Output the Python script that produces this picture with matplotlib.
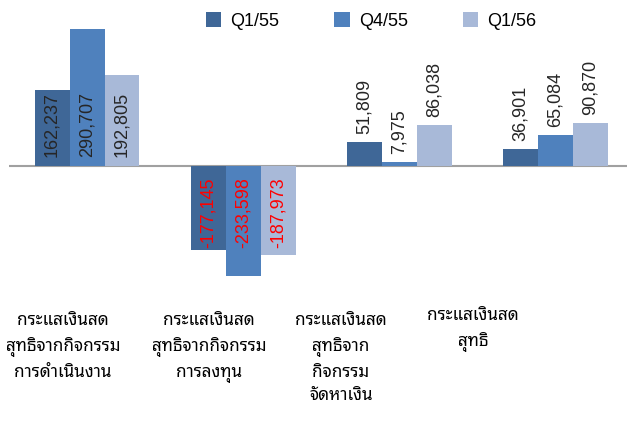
import matplotlib
matplotlib.use("Agg")
import matplotlib.pyplot as plt
from matplotlib import font_manager
from matplotlib.ft2font import FT2Font
from matplotlib.patches import Patch

# ---------------- data ----------------
categories = [
    "กระแสเงินสด\nสุทธิจากกิจกรรม\nการดำเนินงาน",
    "กระแสเงินสด\nสุทธิจากกิจกรรม\nการลงทุน",
    "กระแสเงินสด\nสุทธิจาก\nกิจกรรม\nจัดหาเงิน",
    "กระแสเงินสด\nสุทธิ",
]
series_names = ["Q1/55", "Q4/55", "Q1/56"]
q1_55 = [162237, -177145, 51809, 36901]
q4_55 = [290707, -233598, 7975, 65084]
q1_56 = [192805, -187973, 86038, 90870]
series_values = [q1_55, q4_55, q1_56]

colors = ["#3F6797", "#4F81BD", "#A8B9D8"]

# ---------------- fonts ----------------
thai_fonts = []
for fe in font_manager.fontManager.ttflist:
    try:
        cm = FT2Font(fe.fname).get_charmap()
        if 0x0E01 in cm and 0x0E14 in cm:
            if fe.name not in thai_fonts:
                thai_fonts.append(fe.name)
    except Exception:
        pass
if "Noto Sans Thai Looped" in thai_fonts:
    thai_fonts.remove("Noto Sans Thai Looped")
    thai_fonts.insert(0, "Noto Sans Thai Looped")
latin_font = "Liberation Sans"
plt.rcParams["font.family"] = [latin_font] + thai_fonts + ["DejaVu Sans"]

# ---------------- figure ----------------
W, H = 627, 425
fig = plt.figure(figsize=(W / 100, H / 100), dpi=100)
ax = fig.add_axes([9 / W, 125 / H, (W - 9) / W, 300 / H])
ax.set_xlim(-0.5, 3.46)
ax.set_ylim(-284000, 352000)
ax.axis("off")

bw = 0.224
for s, (vals, col) in enumerate(zip(series_values, colors)):
    xs = [i + (s - 1) * bw for i in range(len(categories))]
    ax.bar(xs, vals, width=bw, color=col, zorder=2)
    for i, (x, v) in enumerate(zip(xs, vals)):
        txt = f"{v:,}"
        if i < 2:
            if v >= 0:
                ax.annotate(txt, (x, 0), xytext=(0, 9), textcoords="offset pixels",
                            rotation=90, ha="center", va="bottom", fontsize=13,
                            color="#262626", zorder=3)
            else:
                ax.annotate(txt, (x, 0), xytext=(0, -11), textcoords="offset pixels",
                            rotation=90, ha="center", va="top", fontsize=13,
                            color="#FF0000", zorder=3)
        else:
            ax.annotate(txt, (x, v), xytext=(0, 8), textcoords="offset pixels",
                        rotation=90, ha="center", va="bottom", fontsize=13,
                        color="#262626", zorder=3)

ax.axhline(0, xmin=0, xmax=1, color="#A0A0A0", lw=1.5, zorder=1)

label_shift = [-0.154, -0.218, -0.372, -0.526]
label_top = [313, 313, 313, 308]
for i, (lab, sh, top) in enumerate(zip(categories, label_shift, label_top)):
    fig.text((87 + 156 * (i + sh)) / W, 1 - top / H, lab, ha="center", va="top",
             fontsize=12.3, linespacing=1.66, color="#000000", fontweight="medium")

handles = [Patch(facecolor=c, edgecolor="none", label=n) for c, n in zip(colors, series_names)]
fig.legend(handles=handles, loc="center left", bbox_to_anchor=(206 / W, 1 - 21 / H),
           ncol=3, frameon=False, fontsize=13, handlelength=0.85, handleheight=0.85,
           handletextpad=0.5, columnspacing=3.05, borderpad=0, borderaxespad=0)

fig.savefig("out.png", dpi=100)
